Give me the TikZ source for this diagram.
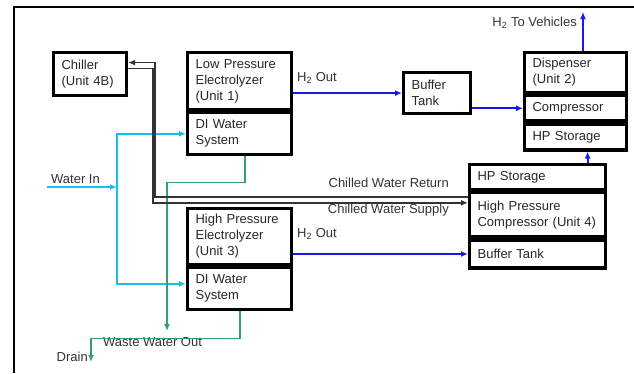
\documentclass[tikz,border=0pt]{standalone}
\usepackage{fontspec}
\setmainfont{Liberation Sans}
\usetikzlibrary{positioning,arrows.meta}
\definecolor{h2blue}{RGB}{25,25,230}
\definecolor{watercyan}{RGB}{25,190,235}
\definecolor{wastegreen}{RGB}{50,160,110}

\begin{document}
\begin{tikzpicture}[
          x=1pt, y=-1pt,
          font=\fontsize{13}{16}\selectfont,
          unit/.style={draw, line width=3.2pt, text=black!85, anchor=north west, align=left, inner xsep=8pt, inner ysep=0pt},
          lbl/.style={text=black!80, inner sep=0pt},
          tip/.style={-{Latex[length=7pt,width=6pt]}},
          h2/.style={tip, draw=h2blue, line width=1.8pt},
          water/.style={tip, draw=watercyan, line width=1.8pt},
          waste/.style={tip, draw=wastegreen, line width=1.8pt},
          cw/.style={tip, draw=black!80, line width=1.5pt}
      ]
        \useasboundingbox (0,0) rectangle (634,373);
        \draw[line width=2.6pt] (634,7) -- (14,7) -- (14,373);
        \node[unit, text width=57pt, minimum height=43pt] (chiller) at (52,51) {Chiller\\(Unit 4B)};
        \node[unit, text width=88pt, minimum height=57pt] (lpe) at (186,51) {Low Pressure\\Electrolyzer\\(Unit 1)};
        \node[unit, text width=88pt, minimum height=42pt] (di1) at (lpe.south west) {DI Water\\System};
        \node[unit, text width=88pt, minimum height=56pt] (hpe) at (186,207) {High Pressure\\Electrolyzer\\(Unit 3)};
        \node[unit, text width=88pt, minimum height=42pt] (di2) at (hpe.south west) {DI Water\\System};
        \node[unit, text width=51pt, minimum height=41pt] (buf1) at (402,71) {Buffer\\Tank};
        \node[unit, text width=86pt, minimum height=40pt] (disp) at (523,51) {Dispenser\\(Unit 2)};
        \node[unit, text width=86pt, minimum height=25pt] (comp) at (disp.south west) {Compressor};
        \node[unit, text width=86pt, minimum height=26pt] (hps1) at (comp.south west) {HP Storage};
        \node[unit, text width=120pt, minimum height=25pt] (hps2) at (468,163) {HP Storage};
        \node[unit, text width=120pt, minimum height=44pt] (hpc) at (hps2.south west) {High Pressure\\Compressor (Unit 4)};
        \node[unit, text width=120pt, minimum height=28pt] (buf2) at (hpc.south west) {Buffer Tank};
        \node[lbl, anchor=base west] (out1) at (297,81.5) {H\textsubscript{2} Out};
        \node[lbl, anchor=base west] (out2) at (297,237) {H\textsubscript{2} Out};
        \node[lbl, anchor=base east] (vehlbl) at (577,26.5) {H\textsubscript{2} To Vehicles};
        \node[lbl, anchor=base west] (winlbl) at (51,183.5) {Water In};
        \node[lbl, anchor=base east] (retlbl) at (449,187) {Chilled Water Return};
        \node[lbl, anchor=base east] (suplbl) at (449,213) {Chilled Water Supply};
        \node[lbl, anchor=base west] (wastelbl) at (103,346) {Waste Water Out};
        \node[lbl, anchor=base east] (drainlbl) at (88,361) {Drain};
        \coordinate (veh) at (583,12);
        \coordinate (win) at (47,187);
        \coordinate (wj) at (117,187);
        \coordinate (wtop) at (167,331);
        \coordinate (drain) at (91,362);
        \draw[h2] (lpe.east |- buf1.west) -- (buf1.west);
        \draw[h2] (buf1.east |- comp.west) -- (comp.west);
        \draw[h2] (hpe.east |- buf2.west) -- (buf2.west);
        \draw[h2] ([xshift=12pt]hps1.south |- hps2.north) -- ([xshift=12pt]hps1.south);
        \draw[h2] (disp.north -| veh) -- (veh);
        \draw[water] (win) -- (wj);
        \draw[water] (wj) |- (di1.west);
        \draw[water] (wj) |- ([yshift=5pt]di2.west);
        \draw[waste] ([xshift=5pt]di1.south) -- ++(0,26) -| (wtop);
        \draw[waste] (di2.south) -- ++(0,27) -| (drain);
        \draw[cw] ([yshift=18pt]hpc.west) -- ++(-313,0) |- ([yshift=11.5pt]chiller.east);
        \draw[cw] ([yshift=5.5pt]chiller.east) -- ++(25,0) |- ([yshift=12pt]hpc.west);
      \end{tikzpicture}
\end{document}
